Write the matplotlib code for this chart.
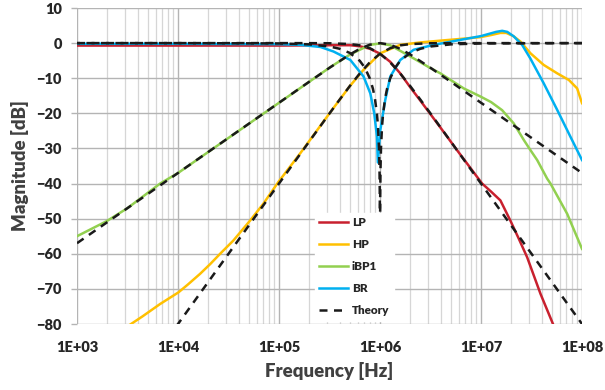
import numpy as np
import matplotlib
matplotlib.use("Agg")
import matplotlib.pyplot as plt
from matplotlib.ticker import FixedLocator, LogLocator, NullFormatter

plt.rcParams['font.family'] = ['Lato', 'DejaVu Sans']
plt.rcParams['font.weight'] = 'heavy'
plt.rcParams['path.simplify'] = False

# --- measured curves (log10 of frequency, magnitude in dB) ---
lp_lg = [3.0, 4.0, 5.0, 5.5, 5.706, 5.8, 5.9, 6.0, 6.1, 6.2, 6.3, 6.4, 6.597, 6.763,
         7.011, 7.1, 7.192, 7.29, 7.374, 7.457, 7.589, 7.72]
lp_db = [-0.7, -0.7, -0.7, -0.6, -0.6, -0.9, -1.6, -3.0, -5.3, -8.6, -12.6, -16.4, -24.0, -30.5,
         -40.0, -42.3, -44.8, -50.5, -55.7, -61.0, -71.4, -80.5]

hp_lg = [3.45, 3.509, 3.65, 3.823, 4.004, 4.1, 4.219, 4.32, 4.417, 4.549, 4.715, 4.846, 4.995,
         5.21, 5.5, 5.7, 5.837, 6.003, 6.2, 6.4, 6.597, 6.8, 6.994, 7.1, 7.192, 7.25, 7.32,
         7.39, 7.49, 7.62, 7.754, 7.87, 7.952, 8.0]
hp_db = [-81.7, -80.5, -77.8, -74.3, -71.0, -68.7, -65.7, -62.9, -60.0, -56.2, -50.5, -45.7,
         -39.5, -31.4, -20.0, -12.3, -7.6, -2.9, -0.5, 0.2, 0.7, 1.2, 1.7, 2.3, 2.9, 2.9, 2.0,
         0.46, -2.9, -6.2, -8.6, -10.5, -12.9, -17.1]

bp_lg = [3.0, 3.294, 3.5, 3.823, 4.0, 4.5, 5.0, 5.21, 5.5, 5.7, 5.9, 6.0, 6.1, 6.2, 6.3,
         6.498, 6.597, 6.829, 6.994, 7.1, 7.209, 7.325, 7.424, 7.49, 7.556, 7.655, 7.688,
         7.853, 8.0]
bp_db = [-55.0, -50.7, -47.0, -40.0, -37.0, -27.0, -17.0, -12.8, -7.0, -3.3, -0.5, -0.1, -0.6,
         -2.2, -3.8, -7.1, -8.6, -12.9, -15.2, -16.8, -19.1, -22.9, -27.6, -30.5, -33.3, -38.6,
         -40.0, -48.6, -58.6]

br_lg = [3.0, 4.0, 5.0, 5.21, 5.41, 5.54, 5.706, 5.837, 5.904, 5.943, 5.97, 5.979, 6.003,
         6.052, 6.102, 6.201, 6.333, 6.531, 6.829, 7.0, 7.1, 7.15, 7.21, 7.26, 7.325, 7.407,
         7.487, 7.62, 7.754, 7.886, 8.0]
br_db = [-0.2, -0.2, -0.3, -0.5, -1.1, -2.4, -4.8, -9.5, -14.3, -20.0, -26.7, -34.0, -24.8,
         -16.2, -9.5, -4.8, -1.9, -0.5, 1.1, 2.0, 2.8, 3.2, 3.5, 3.2, 1.9, -0.5,
         -4.3, -11.4, -19.0, -26.7, -33.3]

# --- theory curves ---
th_lp_lg = [3.0, 4.0, 5.0, 5.3, 5.5, 5.7, 5.8, 5.9, 6.0, 6.1, 6.2, 6.3, 6.4, 6.5, 6.7, 7.0, 7.5, 8.0]
th_lp_db = [0.0, 0.0, 0.0, -0.01, -0.04, -0.27, -0.64, -1.46, -3.01, -5.46, -8.64, -12.27,
            -16.11, -20.04, -28.0, -40.0, -60.0, -80.0]

th_hp_lg = [3.9, 4.0, 4.5, 5.0, 5.3, 5.5, 5.6, 5.7, 5.8, 5.9, 6.0, 6.1, 6.2, 6.3, 6.5, 6.7, 7.0, 8.0]
th_hp_db = [-84.0, -80.0, -60.0, -40.0, -28.0, -20.04, -16.11, -12.27, -8.64, -5.46, -3.01,
            -1.46, -0.64, -0.27, -0.04, -0.01, 0.0, 0.0]

th_bp_lg = [3.0, 4.0, 5.0, 5.3, 5.5, 5.7, 5.8, 5.9, 6.0, 6.1, 6.2, 6.3, 6.5, 6.7, 7.0, 8.0]
th_bp_db = [-56.99, -36.99, -16.99, -10.99, -7.03, -3.26, -1.63, -0.45, 0.0, -0.45, -1.63,
            -3.26, -7.03, -10.99, -16.99, -36.99]

th_br_lg = [3.0, 4.0, 5.0, 5.3, 5.5, 5.6, 5.7, 5.8, 5.85, 5.9, 5.93, 5.95, 5.97, 5.98, 5.99,
            5.995, 5.998, 6.0, 6.002, 6.005, 6.01, 6.02, 6.03, 6.05, 6.07, 6.1, 6.15, 6.2,
            6.3, 6.4, 6.5, 6.7, 7.0, 8.0]
th_br_db = [0.0, 0.0, -0.09, -0.36, -0.96, -1.61, -2.78, -5.05, -7.01, -10.12, -13.0, -15.85,
            -20.24, -23.74, -29.75, -35.8, -43.5, -65.0, -43.5, -35.8, -29.75, -23.74, -20.24,
            -15.85, -13.0, -10.12, -7.01, -5.05, -2.78, -1.61, -0.96, -0.36, -0.09, 0.0]

y_ticks = list(range(-80, 11, 10))
x_ticks = [1e3, 1e4, 1e5, 1e6, 1e7, 1e8]
x_labels = ['1E+03', '1E+04', '1E+05', '1E+06', '1E+07', '1E+08']

# ---------- PLOT ----------
fig = plt.figure(figsize=(6.05, 3.9), dpi=100)
ax = fig.add_axes([77 / 605, 1 - 324 / 390, 505 / 605, 316 / 390])

lw = 1.8
ax.plot(10 ** np.array(lp_lg), lp_db, color='#C8202E', lw=lw, label='LP')
ax.plot(10 ** np.array(hp_lg), hp_db, color='#FFC000', lw=lw, label='HP')
ax.plot(10 ** np.array(bp_lg), bp_db, color='#92D050', lw=lw, label='iBP1')
ax.plot(10 ** np.array(br_lg), br_db, color='#00B0F0', lw=lw, label='BR')

dash = (0, (3.2, 2.6))
ax.plot(10 ** np.array(th_lp_lg), th_lp_db, color='#1a1a1a', lw=lw, ls=dash, label='Theory')
ax.plot(10 ** np.array(th_hp_lg), th_hp_db, color='#1a1a1a', lw=lw, ls=dash)
ax.plot(10 ** np.array(th_bp_lg), th_bp_db, color='#1a1a1a', lw=lw, ls=dash)
ax.plot(10 ** np.array(th_br_lg), th_br_db, color='#1a1a1a', lw=lw, ls=(2, (3.2, 2.6)))

ax.set_xscale('log')
ax.set_xlim(1e3, 1e8)
ax.set_ylim(-80, 10)

ax.xaxis.set_major_locator(FixedLocator(x_ticks))
ax.set_xticklabels(x_labels)
ax.xaxis.set_minor_locator(LogLocator(base=10, subs=np.arange(2, 10)))
ax.xaxis.set_minor_formatter(NullFormatter())
ax.set_yticks(y_ticks)

ax.grid(True, which='major', color='#b4b4b4', lw=1.0)
ax.grid(True, which='minor', axis='x', color='#d6d6d6', lw=0.9)
ax.set_axisbelow(True)
for s in ax.spines.values():
    s.set_visible(False)

ax.tick_params(axis='x', which='both', length=0, pad=12, labelsize=10.5, colors='#262626')
ax.tick_params(axis='y', length=4, width=1, color='#b4b4b4', pad=7, labelsize=10.5,
               labelcolor='#262626')

ax.set_xlabel('Frequency [Hz]', fontsize=13.4, fontweight='heavy', color='#404040', labelpad=6)
ax.set_ylabel('Magnitude [dB]', fontsize=13.4, fontweight='heavy', color='#404040', labelpad=5)

leg = ax.legend(loc='lower left', bbox_to_anchor=(0.459, -0.008), frameon=True, fancybox=False,
                framealpha=1, edgecolor='white', fontsize=8.5, labelspacing=0.95,
                handlelength=2.5, handletextpad=0.3, borderpad=0.35)
for t in leg.get_texts():
    t.set_fontweight('heavy')
    t.set_color('#262626')

fig.savefig('out.png', dpi=100)
